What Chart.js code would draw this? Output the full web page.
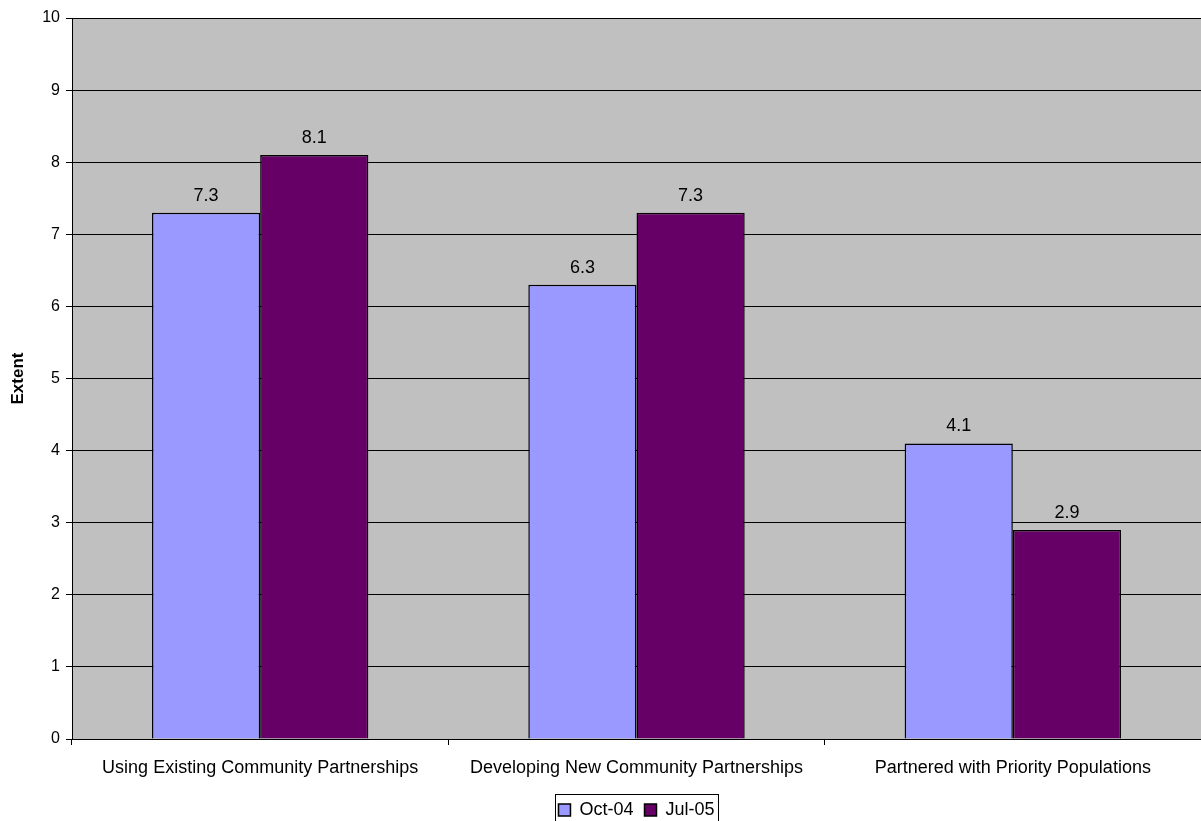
<!DOCTYPE html>
<html>
<head>
<meta charset="utf-8">
<script src="https://cdn.jsdelivr.net/npm/chart.js@4/dist/chart.umd.min.js"></script>
<style>
  html, body { margin: 0; padding: 0; background: #fff; }
  #wrap { width: 1201px; height: 821px; }
</style>
</head>
<body>
<div id="wrap"><canvas id="myChart" width="1201" height="821"></canvas></div>
<script>
const categorias = ['Using Existing Community Partnerships', 'Developing New Community Partnerships', 'Partnered with Priority Populations'];
const valoresOct04 = [7.3, 6.3, 4.1];
const valoresJul05 = [8.1, 7.3, 2.9];
const etiquetasSerie = ['Oct-04', 'Jul-05'];

const fuente = '"Liberation Sans", Arial, sans-serif';
const ctx = document.getElementById('myChart');

// fondo gris del area de la grafica
const fondoArea = {
  id: 'fondoArea',
  beforeDraw(chart) {
    const a = chart.chartArea;
    const c = chart.ctx;
    c.save();
    c.fillStyle = '#c0c0c0';
    c.fillRect(a.left, a.top, a.right - a.left, a.bottom - a.top);
    c.restore();
  }
};

// valores encima de cada barra
const etiquetasValor = {
  id: 'etiquetasValor',
  afterDatasetsDraw(chart) {
    const c = chart.ctx;
    c.save();
    c.font = '18px ' + fuente;
    c.fillStyle = '#000';
    c.textAlign = 'center';
    c.textBaseline = 'alphabetic';
    chart.data.datasets.forEach((ds, i) => {
      chart.getDatasetMeta(i).data.forEach((bar, j) => {
        c.fillText(ds.data[j].toFixed(1), bar.x, bar.y - 12);
      });
    });
    c.restore();
  }
};

// recuadro alrededor de la leyenda
const cajaLeyenda = {
  id: 'cajaLeyenda',
  afterDraw(chart) {
    const items = chart.legend.legendHitBoxes;
    if (!items.length) return;
    const ult = items[items.length - 1];
    const x0 = items[0].left - 3;
    const x1 = ult.left + ult.width + 4;
    const c = chart.ctx;
    c.save();
    c.strokeStyle = '#000';
    c.lineWidth = 1;
    c.strokeRect(Math.round(x0) + 0.5, Math.round(items[0].top) - 6.5, Math.round(x1 - x0), 40);
    c.restore();
  }
};

new Chart(ctx, {
  type: 'bar',
  data: {
    labels: categorias,
    datasets: [{
      label: etiquetasSerie[0],
      data: valoresOct04,
      backgroundColor: '#9999ff',
      borderColor: '#000',
      borderWidth: 1.5,
      categoryPercentage: 0.575,
      barPercentage: 1
    }, {
      label: etiquetasSerie[1],
      data: valoresJul05,
      backgroundColor: '#660066',
      borderColor: '#000',
      borderWidth: 1.5,
      categoryPercentage: 0.575,
      barPercentage: 1
    }]
  },
  options: {
    responsive: false,
    animation: false,
    layout: { padding: { top: 18, right: -5, left: 0, bottom: -8 } },
    plugins: {
      tooltip: { enabled: false },
      legend: {
        position: 'bottom',
        fullSize: false,
        labels: {
          color: '#000',
          boxWidth: 12,
          boxHeight: 12,
          padding: 11,
          font: { size: 18, family: fuente }
        }
      }
    },
    scales: {
      x: {
        grid: { drawOnChartArea: false, drawTicks: true, tickLength: 6, color: '#000', offset: true },
        border: { color: '#000', width: 1 },
        ticks: { color: '#000', padding: 12, maxRotation: 0, font: { size: 18, family: fuente } },
        afterFit(scale) { scale.height = 51; }
      },
      y: {
        min: 0,
        max: 10,
        ticks: { stepSize: 1, color: '#000', padding: 6, font: { size: 16, family: fuente } },
        grid: { color: '#000', tickLength: 6, drawTicks: true },
        border: { color: '#000', width: 1 },
        title: { display: true, text: 'Extent', color: '#000', padding: { top: 8, bottom: 0 }, font: { size: 17, weight: 'bold', family: fuente } },
        afterFit(scale) { scale.width = 72; }
      }
    }
  },
  plugins: [fondoArea, etiquetasValor, cajaLeyenda]
});
</script>
</body>
</html>
